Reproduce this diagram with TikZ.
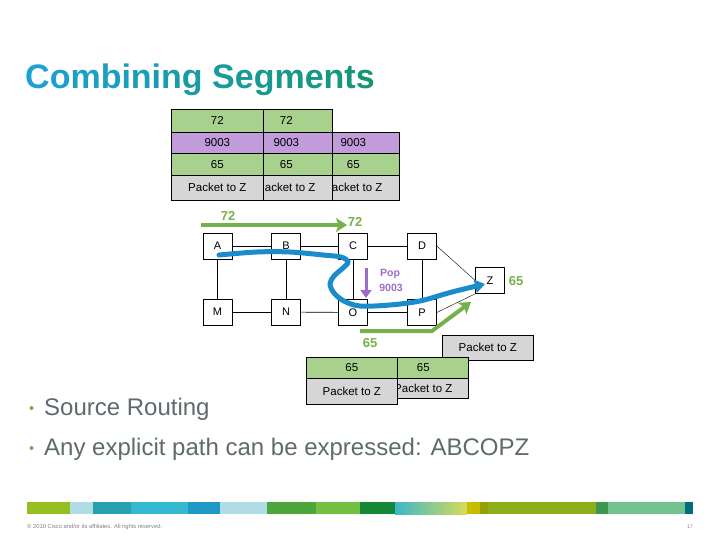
\documentclass[tikz,border=0pt]{standalone}
\usepackage{fontspec}
\setmainfont{Liberation Sans}
\usetikzlibrary{arrows.meta}
\definecolor{cellgreen}{HTML}{A9D18E}
\definecolor{cellpurple}{HTML}{C29BDB}
\definecolor{cellgray}{HTML}{D6D6D6}
\definecolor{agreen}{HTML}{76B04A}
\definecolor{apurple}{HTML}{9D6CCB}
\definecolor{ablue}{HTML}{1A8CCC}
\definecolor{tblue}{HTML}{1DA0D4}
\definecolor{tgreen}{HTML}{15956C}
\definecolor{bodygray}{HTML}{5E6A6B}
\definecolor{bA}{HTML}{96BE1E}
\definecolor{bB}{HTML}{B0DCE6}
\definecolor{bC}{HTML}{28A0B0}
\definecolor{bD}{HTML}{33B8D2}
\definecolor{bE}{HTML}{1E98C4}
\definecolor{bF}{HTML}{4CA63C}
\definecolor{bG}{HTML}{74BE42}
\definecolor{bH}{HTML}{168736}
\definecolor{bI}{HTML}{3CB8C8}
\definecolor{bJ}{HTML}{D8DC58}
\definecolor{bK}{HTML}{C8BE00}
\definecolor{bL}{HTML}{96A000}
\definecolor{bM}{HTML}{8CAF19}
\definecolor{bN}{HTML}{3C9650}
\definecolor{bO}{HTML}{73C391}
\definecolor{bP}{HTML}{006E78}
\tikzset{
  cell/.style={draw=black, line width=0.6pt, inner sep=0pt, anchor=north west,
    font=\fontsize{11.5}{12}\selectfont},
  gcell/.style={cell, fill=cellgreen},
  pcell/.style={cell, fill=cellpurple},
  ycell/.style={cell, fill=cellgray},
  router/.style={draw=black, line width=0.6pt, fill=white, minimum width=29pt,
    minimum height=26pt, inner sep=0pt, font=\fontsize{11}{12}\selectfont},
  link/.style={draw=black, line width=0.7pt},
  thinlink/.style={draw=black, line width=0.4pt},
  garrow/.style={draw=agreen, line width=4pt, -{Stealth[length=11pt,width=14pt,inset=2.5pt]}},
  parrow/.style={draw=apurple, line width=3pt, -{Triangle[length=8pt,width=11pt]}},
  barrow/.style={draw=ablue, line width=5pt, line cap=round, -{Triangle[length=10pt,width=13pt]}},
  glabel/.style={text=agreen, font=\bfseries\fontsize{13}{14}\selectfont, inner sep=0pt},
  plabel/.style={text=apurple, font=\bfseries\fontsize{10.5}{11}\selectfont, inner sep=0pt},
  bullettext/.style={text=bodygray, font=\fontsize{24}{26}\selectfont, anchor=base west, inner sep=0pt},
  bulletdot/.style={fill=agreen, circle, inner sep=0pt, minimum size=4pt}
}
\begin{document}
\begin{tikzpicture}[x=1pt,y=-1pt]
\useasboundingbox (0,0) rectangle (720,540);
% title
\node[anchor=base west, inner sep=0pt, font=\bfseries\fontsize{34}{36}\selectfont] (title) at (25,89)
 {\textcolor{tblue!100!tgreen}{C}\textcolor{tblue!94!tgreen}{o}\textcolor{tblue!88!tgreen}{m}\textcolor{tblue!82!tgreen}{b}\textcolor{tblue!77!tgreen}{i}\textcolor{tblue!71!tgreen}{n}\textcolor{tblue!65!tgreen}{i}\textcolor{tblue!59!tgreen}{n}\textcolor{tblue!53!tgreen}{g} \textcolor{tblue!47!tgreen}{S}\textcolor{tblue!41!tgreen}{e}\textcolor{tblue!35!tgreen}{g}\textcolor{tblue!29!tgreen}{m}\textcolor{tblue!24!tgreen}{e}\textcolor{tblue!18!tgreen}{n}\textcolor{tblue!12!tgreen}{t}\textcolor{tblue!6!tgreen}{s}};
% top stacks (drawn back to front)
\node[pcell, minimum width=92pt, minimum height=21pt] (t3b) at (307,132) {9003};
\node[gcell, minimum width=92pt, minimum height=22pt] (t3c) at (307,153) {65};
\node[ycell, minimum width=92pt, minimum height=25pt] (t3d) at (307,175) {Packet to Z};
\node[gcell, minimum width=92pt, minimum height=23pt] (t2a) at (240,109) {72};
\node[pcell, minimum width=92pt, minimum height=21pt] (t2b) at (240,132) {9003};
\node[gcell, minimum width=92pt, minimum height=22pt] (t2c) at (240,153) {65};
\node[ycell, minimum width=92pt, minimum height=25pt] (t2d) at (240,175) {Packet to Z};
\node[gcell, minimum width=92pt, minimum height=23pt] (t1a) at (171,109) {72};
\node[pcell, minimum width=92pt, minimum height=21pt] (t1b) at (171,132) {9003};
\node[gcell, minimum width=92pt, minimum height=22pt] (t1c) at (171,153) {65};
\node[ycell, minimum width=92pt, minimum height=25pt] (t1d) at (171,175) {Packet to Z};
% routers
\node[router] (A) at (217.5,246) {A};
\node[router] (B) at (286,246) {B};
\node[router] (C) at (353,246) {C};
\node[router] (D) at (422,246) {D};
\node[router] (M) at (217.5,312) {M};
\node[router] (N) at (286,312) {N};
\node[router] (O) at (353,312.5) {O};
\node[router] (P) at (422,312.5) {P};
\node[router] (Z) at (490,280.5) {Z};
% links
\draw[link] (A) -- (B);
\draw[link] (B) -- (C);
\draw[link] (C) -- (D);
\draw[link] (M) -- (N);
\draw[link] (N) -- (O);
\draw[link] (O) -- (P);
\draw[link] (A) -- (M);
\draw[link] (B) -- (N);
\draw[link] (C) -- (O);
\draw[link] (D) -- (P);
\draw[thinlink] (D.east) -- (Z.west);
\draw[thinlink] (P.east) -- (Z.south west);
% green 72 arrow
\coordinate (g72s) at (201,225);
\coordinate (g72e) at (347,225);
\draw[garrow] (g72s) -- (g72e);
\node[glabel] (l72a) at (228,216) {72};
\node[glabel] (l72b) at (355,222) {72};
% purple pop arrow
\coordinate (pops) at (366,268);
\coordinate (pope) at (366,298);
\draw[parrow] (pops) -- (pope);
\node[plabel] (pop1) at (390,274) {Pop};
\node[plabel] (pop2) at (391,288) {9003};
% blue path
\draw[barrow] plot[smooth, tension=0.55] coordinates {(219,255) (257,252) (290,252) (323,255) (341,257) (348,262) (343,268) (334,276) (330,284) (334,293) (344,301) (360,306) (390,305) (420,301) (452,292) (485,284)};
% green 65 arrow
\coordinate (g65s) at (360,331);
\coordinate (g65m) at (432,331);
\coordinate (g65e) at (471,302);
\draw[garrow] (g65s) -- (g65m) -- (g65e);
\node[glabel] (l65a) at (370,343) {65};
\node[glabel] (l65z) at (516,281) {65};
% packet box near P
\node[ycell, minimum width=91pt, minimum height=25pt] (pk) at (442,335) {Packet to Z};
% bottom stacks
\node[gcell, minimum width=90pt, minimum height=21pt] (s2a) at (378,357) {65};
\node[ycell, minimum width=90pt, minimum height=20pt] (s2b) at (378,378) {Packet to Z};
\node[gcell, minimum width=91pt, minimum height=21pt] (s1a) at (306,357) {65};
\node[ycell, minimum width=91pt, minimum height=26pt] (s1b) at (306,378) {Packet to Z};
% bullets
\node[bulletdot] (d1) at (31.5,408) {};
\node[bullettext] (txt1) at (44,415) {Source Routing};
\node[bulletdot] (d2) at (31.5,448) {};
\node[bullettext] (txt2) at (44,455) {Any explicit path can be expressed: ABCOPZ};
% footer bar
\fill[bA] (27,502) rectangle (70,514);
\fill[bB] (70,502) rectangle (93,514);
\fill[bC] (93,502) rectangle (131,514);
\fill[bD] (131,502) rectangle (188,514);
\fill[bE] (188,502) rectangle (220,514);
\fill[bB] (220,502) rectangle (267,514);
\fill[bF] (267,502) rectangle (316,514);
\fill[bG] (316,502) rectangle (360,514);
\fill[bH] (360,502) rectangle (395,514);
\shade[left color=bI, right color=bJ] (395,502) rectangle (467,514);
\fill[bK] (467,502) rectangle (480,514);
\fill[bL] (480,502) rectangle (488,514);
\fill[bM] (488,502) rectangle (596,514);
\fill[bN] (596,502) rectangle (608,514);
\fill[bO] (608,502) rectangle (685,514);
\fill[bP] (685,502) rectangle (693,514);
\node[anchor=west, inner sep=0pt, text=gray, font=\fontsize{5.8}{6}\selectfont] (copy) at (27,527) {© 2010 Cisco and/or its affiliates. All rights reserved.};
\node[anchor=east, inner sep=0pt, text=gray, font=\fontsize{5.2}{6}\selectfont] (pg) at (693,527) {17};
\end{tikzpicture}
\end{document}
